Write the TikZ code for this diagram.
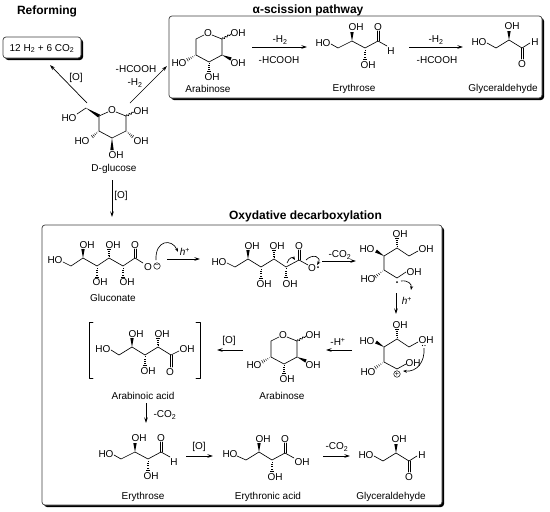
\documentclass[tikz,border=0pt]{standalone}
\usepackage{fontspec}
\setmainfont{Liberation Sans}
\usetikzlibrary{arrows.meta,calc,shadows,decorations.pathmorphing}

\tikzset{
	bond/.style={line width=0.65pt,line cap=round,line join=round},
	wavy/.style={bond,decorate,decoration={snake,amplitude=0.9pt,segment length=3pt}},
	rxn/.style={line width=0.7pt,-{Stealth[length=5.5pt,width=3.5pt]}},
	curly/.style={line width=0.65pt,-{Stealth[length=4pt,width=3pt]}},
	title/.style={font=\fontsize{12}{14}\selectfont\bfseries},
	panel/.style={draw=black!75,fill=white,line width=0.7pt,rounded corners=3pt,
		general shadow={fill=black,shadow xshift=2pt,shadow yshift=-2pt}},
	charge/.style={draw,circle,line width=0.5pt,minimum size=6.5pt,font=\fontsize{7}{7}\selectfont},
	pics/arabinose/.style={code={
		\draw[bond] (204,35) -- (196,39) -- (196,55) -- (209,62) -- (222,55) -- (222,39) -- (212,35);
		\draw[wavy] (222,39) -- (231,34);
		\wedgeb{222,55}{231,59}
		\hashb{196,55}{187,60}
		\hashb{209,62}{209,72}
		\node (o) at (208,33) {O};
		\node (oh1) at (238,33) {OH};
		\node (oh2) at (238,63) {OH};
		\node (oh3) at (179,63) {HO};
		\node (oh4) at (212,77) {OH};
	}},
	pics/erythrose/.style={code={
		\draw[bond] (331,44) -- (338,48) -- (352,41) -- (365,48) -- (378,41) -- (387,46);
		\dblb{378,41}{378,31}
		\wedgeb{352,41}{352,32}
		\hashb{365,48}{365,60}
		\node (ho) at (323,43) {HO};
		\node (o) at (378,27) {O};
		\node (h) at (391,51) {H};
		\node (oh1) at (356,27) {OH};
		\node (oh2) at (368,65) {OH};
	}},
	pics/glyceraldehyde/.style={code={
		\draw[bond] (487,43) -- (496,48) -- (509,40) -- (522,48) -- (530,43);
		\dblb{522,48}{522,59}
		\wedgeb{509,40}{509,31}
		\node (ho) at (479,42) {HO};
		\node (h) at (535,42) {H};
		\node (o) at (522,64) {O};
		\node (oh) at (512,26) {OH};
	}},
}
\newcommand{\wedgeb}[2]{\fill ($(#1)$) -- ($(#2)!1.7pt!90:(#1)$) -- ($(#2)!1.7pt!-90:(#1)$) -- cycle;}
\newcommand{\hashb}[2]{\foreach \t in {0.15,0.35,0.55,0.75,0.95}
	{\draw[line width=0.5pt] ($(#1)!\t!(#2)!\t*1.8pt!90:(#2)$) -- ($(#1)!\t!(#2)!\t*1.8pt!-90:(#2)$);}}
\newcommand{\dblb}[2]{\draw[bond] ($(#1)!0.9pt!90:(#2)$) -- ($(#2)!0.9pt!-90:(#1)$);
	\draw[bond] ($(#1)!0.9pt!-90:(#2)$) -- ($(#2)!0.9pt!90:(#1)$);}

\begin{document}
\begin{tikzpicture}[x=1pt,y=-1pt,every node/.style={inner sep=0pt,anchor=center,font=\fontsize{10}{12}\selectfont}]
	\useasboundingbox (0,0) rectangle (550,512);

	% boxes
	\node[panel,minimum width=78pt,minimum height=21pt] (reformbox) at (42,47.5) {};
	\node (reformtext) at (42,48.5) {12 H\textsubscript{2} + 6 CO\textsubscript{2}};
	\node[panel,minimum width=373pt,minimum height=82pt] (alphabox) at (355.5,57) {};
	\node[panel,minimum width=400pt,minimum height=280pt] (oxybox) at (242,365) {};

	\node[title] (reforming) at (47,11) {Reforming};
	\node[title] (alpha) at (308,10) {α-scission pathway};
	\node[title] (oxy) at (305.5,216) {Oxydative decarboxylation};

	% D-glucose
	\draw[bond] (108,112) -- (99,116) -- (99,131) -- (112,138) -- (126,131) -- (126,116) -- (116,112);
	\draw[bond] (77,114) -- (86,108);
	\wedgeb{86,108}{99,116}
	\draw[wavy] (126,116) -- (134,112);
	\hashb{126,131}{133,137}
	\hashb{99,131}{92,137}
	\wedgeb{112,138}{112,150}
	\node (gluO) at (112,110) {O};
	\node (gluOHa) at (141,111) {OH};
	\node (gluOHb) at (141,141) {OH};
	\node (gluOHc) at (116,155) {OH};
	\node (gluOHd) at (82,141) {HO};
	\node (gluOHe) at (69,118) {HO};
	\node (glucose) at (114,169) {D-glucose};

	\coordinate (gluNW) at (87,103);
	\coordinate (gluNE) at (130,103);
	\coordinate (gluS) at (112,180);
	\coordinate (reformEnd) at (50,65);
	\coordinate (alphaEnd) at (167,66);
	\coordinate (oxyEnd) at (112,217);
	\draw[rxn] (gluNW) -- (reformEnd);
	\draw[rxn] (gluNE) -- (alphaEnd);
	\draw[rxn] (gluS) -- (oxyEnd);
	\node (oA) at (76,78) {[O]};
	\node (hcoohA) at (136,69) {-HCOOH};
	\node (hA) at (135,83) {-H\textsubscript{2}};
	\node (oB) at (121,196) {[O]};

	% top row
	\pic (araA) at (0,0) {arabinose};
	\node (araAname) at (208,89) {Arabinose};
	\pic (eryA) at (0,0) {erythrose};
	\node (eryAname) at (354,89) {Erythrose};
	\pic (glyA) at (0,0) {glyceraldehyde};
	\node (glyAname) at (503,89) {Glyceraldehyde};

	\coordinate (topa) at (252,47);
	\coordinate (topb) at (307,47);
	\coordinate (topc) at (409,47);
	\coordinate (topd) at (463,47);
	\draw[rxn] (topa) -- (topb);
	\draw[rxn] (topc) -- (topd);
	\node (hB) at (280,40) {-H\textsubscript{2}};
	\node (hcoohB) at (279,60) {-HCOOH};
	\node (hC) at (436,40) {-H\textsubscript{2}};
	\node (hcoohC) at (437,60) {-HCOOH};

	% gluconate
	\draw[bond] (63,262) -- (71,266) -- (83,258) -- (97,266) -- (109,258) -- (123,266) -- (135,258) -- (143,263);
	\dblb{135,258}{135,249}
	\wedgeb{83,258}{83,249}
	\hashb{97,266}{97,278}
	\hashb{109,258}{109,249}
	\hashb{123,266}{123,278}
	\node (gntHO) at (55,260) {HO};
	\node (gntOHa) at (87,245) {OH};
	\node (gntOHb) at (113,245) {OH};
	\node (gntOHc) at (100,282) {OH};
	\node (gntOHd) at (127,282) {OH};
	\node (gntO) at (135,245) {O};
	\node (gntOm) at (148,267) {O};
	\node[charge] (gntMinus) at (157,266) {−};
	\node (gluconate) at (113,298) {Gluconate};
	\draw[curly] (156,260) .. controls (155,240) and (172,238) .. (178,252);
	\node (hplusA) at (185,252) {\textit{h}\textsuperscript{+}};

	\coordinate (rowa) at (167,259);
	\coordinate (rowb) at (200,259);
	\draw[rxn] (rowa) -- (rowb);

	% radical intermediate
	\draw[bond] (227,263) -- (235,267) -- (248,259) -- (261,267) -- (274,259) -- (286,267) -- (299,260) -- (308,265);
	\dblb{299,260}{299,250}
	\wedgeb{248,259}{248,250}
	\hashb{261,267}{261,279}
	\hashb{274,259}{274,250}
	\hashb{286,267}{286,278}
	\node (radHO) at (219,262) {HO};
	\node (radOHa) at (252,246) {OH};
	\node (radOHb) at (277,246) {OH};
	\node (radOHc) at (264,284) {OH};
	\node (radOHd) at (290,284) {OH};
	\node (radO) at (299,246) {O};
	\node (radOb) at (312,268) {O};
	\fill (318,267) circle (1pt);
	\draw[curly] (287,263) .. controls (289,257) and (293,257) .. (295,260);
	\draw[curly] (306,260) .. controls (313,253) and (322,257) .. (317,265);

	\coordinate (rowc) at (322,261);
	\coordinate (rowd) at (356,261);
	\draw[rxn] (rowc) -- (rowd);
	\node (co2A) at (340,255) {-CO\textsubscript{2}};

	% ring-open carbon radical
	\draw[bond] (418,251) -- (409,256) -- (397,248) -- (384,256) -- (384,270) -- (397,278) -- (406,272);
	\hashb{397,248}{397,238}
	\wedgeb{384,256}{376,251}
	\hashb{384,270}{375,277}
	\node (chOHa) at (400,234) {OH};
	\node (chOHb) at (426,249) {OH};
	\node (chOHc) at (367,249) {HO};
	\node (chOHd) at (368,279) {HO};
	\node (chOHe) at (414,272) {OH};
	\fill (397,282) circle (1pt);
	\draw[curly] (401,281) .. controls (408,280) and (412,284) .. (411,290);

	\coordinate (cola) at (396,293);
	\coordinate (colb) at (396,314);
	\draw[rxn] (cola) -- (colb);
	\node (hplusB) at (407,301) {\textit{h}\textsuperscript{+}};

	% carbocation
	\draw[bond] (418,342) -- (409,347) -- (397,339) -- (384,347) -- (384,362) -- (397,369) -- (406,364);
	\hashb{397,339}{397,329}
	\wedgeb{384,347}{376,342}
	\hashb{384,362}{375,368}
	\node (catOHa) at (400,325) {OH};
	\node (catOHb) at (426,340) {OH};
	\node (catOHc) at (367,341) {HO};
	\node (catOHd) at (368,372) {HO};
	\node (catOHe) at (413,363) {OH};
	\node[charge] (catPlus) at (397,374) {+};
	\fill (422.5,345.5) circle (0.6pt) (425,345.5) circle (0.6pt);
	\draw[curly] (424,348) .. controls (425,362) and (417,372) .. (403,371);

	\coordinate (rowe) at (352,350);
	\coordinate (rowf) at (326,350);
	\draw[rxn] (rowe) -- (rowf);
	\node (hplusC) at (338,342) {-H\textsuperscript{+}};

	% second row
	\pic (araB) at (75,302) {arabinose};
	\node (araBname) at (282,396) {Arabinose};

	\coordinate (rowg) at (243,350);
	\coordinate (rowh) at (217,350);
	\draw[rxn] (rowg) -- (rowh);
	\node (oC) at (229,341) {[O]};

	\draw[bond] (93,322) -- (89,322) -- (89,378) -- (93,378);
	\draw[bond] (196,322) -- (200,322) -- (200,378) -- (196,378);
	\draw[bond] (111,350) -- (119,355) -- (132,347) -- (145,355) -- (158,347) -- (171,355) -- (179,351);
	\dblb{171,355}{171,367}
	\wedgeb{132,347}{132,338}
	\hashb{145,355}{145,366}
	\hashb{158,347}{158,338}
	\node (acidHO) at (103,349) {HO};
	\node (acidOHa) at (136,334) {OH};
	\node (acidOHb) at (162,334) {OH};
	\node (acidOHc) at (148,371) {OH};
	\node (acidOHd) at (187,349) {OH};
	\node (acidO) at (170,372) {O};
	\node (acidname) at (143,396) {Arabinoic acid};

	\coordinate (colc) at (146,403);
	\coordinate (cold) at (146,423);
	\draw[rxn] (colc) -- (cold);
	\node (co2B) at (165,415) {-CO\textsubscript{2}};

	% bottom row
	\pic (eryB) at (-217,411) {erythrose};
	\node (eryBname) at (143,497) {Erythrose};

	\coordinate (rowi) at (186,456);
	\coordinate (rowj) at (213,456);
	\draw[rxn] (rowi) -- (rowj);
	\node (oD) at (199,447) {[O]};

	\draw[bond] (237,456) -- (246,460) -- (259,452) -- (272,460) -- (285,453) -- (294,458);
	\dblb{285,453}{285,443}
	\wedgeb{259,452}{259,443}
	\hashb{272,460}{272,472}
	\node (etaHO) at (230,454) {HO};
	\node (etaOHa) at (263,439) {OH};
	\node (etaOHb) at (275,477) {OH};
	\node (etaOHc) at (302,462) {OH};
	\node (etaO) at (285,439) {O};
	\node (etaname) at (268,497) {Erythronic acid};

	\coordinate (rowk) at (323,456);
	\coordinate (rowl) at (350,456);
	\draw[rxn] (rowk) -- (rowl);
	\node (co2C) at (337,447) {-CO\textsubscript{2}};

	\pic (glyB) at (-113,413) {glyceraldehyde};
	\node (glyBname) at (391,497) {Glyceraldehyde};
\end{tikzpicture}
\end{document}
